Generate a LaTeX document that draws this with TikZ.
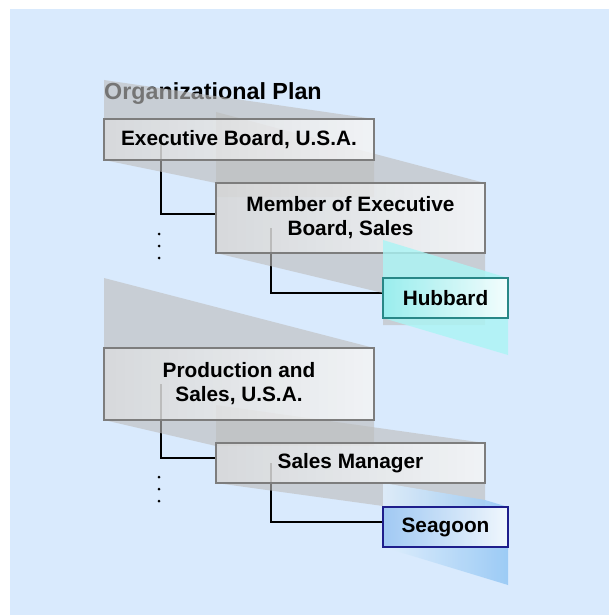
\documentclass[tikz,border=0pt]{standalone}
\usepackage{fontspec}
\setmainfont{Liberation Sans}
\usetikzlibrary{calc}
\pgfdeclarelayer{bglayer}
\pgfdeclarelayer{bandlayer}
\pgfsetlayers{bglayer,bandlayer,main}
\definecolor{bgblue}{RGB}{217,234,253}
\definecolor{boxline}{RGB}{125,125,125}
\definecolor{tealline}{RGB}{40,135,135}
\definecolor{cyanfill}{RGB}{150,238,238}
\definecolor{cyanband}{RGB}{170,245,245}
\definecolor{navyline}{RGB}{30,30,140}
\definecolor{bluefill}{RGB}{150,195,242}
\definecolor{blueband}{RGB}{150,200,245}
\definecolor{bandgray}{RGB}{190,190,190}
\tikzset{
  basebox/.style={line width=2.4pt, fill opacity=0.85, text opacity=1,
    inner sep=0pt, outer sep=0pt, align=center, text=black,
    font=\bfseries\fontsize{20.8}{24}\selectfont},
  orgbox/.style={basebox, draw=boxline, left color=black!16, middle color=white, right color=black!4},
  tealbox/.style={basebox, draw=tealline, left color=cyanfill, middle color=white, right color=white},
  navybox/.style={basebox, draw=navyline, left color=bluefill, middle color=white, right color=white},
  conn/.style={line width=2pt, black},
  band/.style={fill=bandgray, fill opacity=0.62},
  dotmark/.style={fill=black},
}
\begin{document}
\begin{tikzpicture}[x=1pt,y=-1pt]
\useasboundingbox (0,0) rectangle (609,615);
\begin{pgfonlayer}{bglayer}
  \fill[white] (0,0) rectangle (609,615);
  \fill[bgblue] (10,9) rectangle (609,615);
  \node[anchor=base west, inner sep=0pt, font=\bfseries\fontsize{23.3}{27}\selectfont] (title) at (104,100) {Organizational Plan};
\end{pgfonlayer}

% boxes
\node[orgbox, minimum width=270, minimum height=41] (exec) at (239,139.5) {Executive Board, U.S.A.};
\node[orgbox, minimum width=269, minimum height=70] (member) at (350.5,218) {Member of Executive\\Board, Sales};
\fill[cyanband, fill opacity=0.8] (383,240) -- (508,278) -- (508,355) -- (383,318) -- cycle;
\node[tealbox, minimum width=125, minimum height=40] (hubbard) at (445.5,298) {Hubbard};
\node[orgbox, minimum width=270, minimum height=72] (prod) at (239,384) {Production and\\Sales, U.S.A.};
\node[orgbox, minimum width=269, minimum height=40] (salesmgr) at (350.5,463) {Sales Manager};
\node[navybox, minimum width=125, minimum height=40] (seagoon) at (445.5,527) {Seagoon};

\begin{pgfonlayer}{bandlayer}
  % connectors
  \draw[conn] ($(exec.west)+(57,0)$) |- ($(member.west)+(0,-4)$);
  \draw[conn] ($(member.west)+(55,10)$) |- ($(hubbard.west)+(0,-5)$);
  \draw[conn] ($(prod.west)+(57,0)$) |- ($(salesmgr.west)+(0,-5)$);
  \draw[conn] ($(salesmgr.west)+(55,0)$) |- ($(seagoon.west)+(0,-5)$);
  % continuation dots
  \foreach \y in {234,246,258,477,489,501} \fill[dotmark] (159,\y) circle (1.5);
  % perspective bands
  \fill[band] (104,80) -- (374,119) -- (104,119) -- cycle;
  \fill[band] (216,112) -- (485,183) -- (216,183) -- cycle;
  \fill[band] (104,160) -- (374,160) -- (374,197) -- (216,197) -- (216,183) -- cycle;
  \fill[band] (216,253) -- (485,253) -- (485,325) -- (383,325) -- (383,293) -- cycle;
  \fill[band] (104,278) -- (374,348) -- (104,348) -- cycle;
  \fill[band] (104,420) -- (374,420) -- (374,446) -- (216,446) -- cycle;
  \fill[band] (216,405) -- (485,443) -- (216,443) -- cycle;
  \fill[band] (216,483) -- (485,483) -- (485,520) -- (383,520) -- (383,506) -- cycle;
  \shade[left color=blueband!30!white, right color=blueband, fill opacity=0.9]
    (383,483) -- (485,500) -- (508,507) -- (508,585) -- (383,547) -- cycle;
\end{pgfonlayer}
\end{tikzpicture}
\end{document}
